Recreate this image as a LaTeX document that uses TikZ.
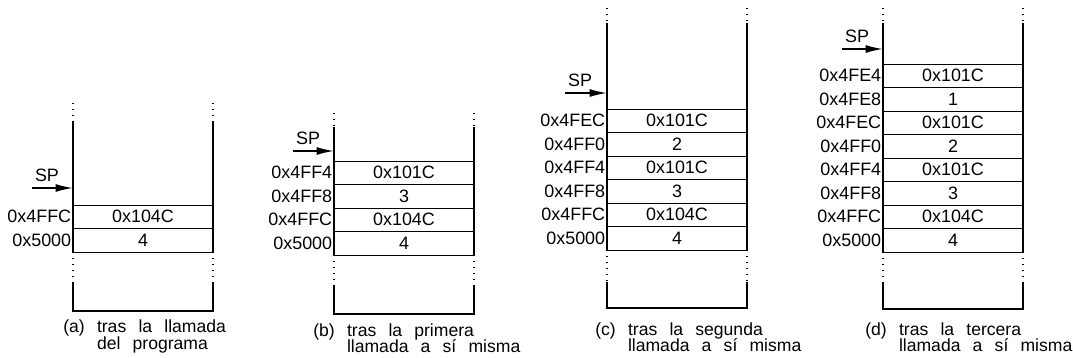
\documentclass[tikz,border=0pt]{standalone}
\usepackage{fontspec}
\setmainfont{Liberation Sans}[WordSpace=2.5]
\usetikzlibrary{arrows.meta}

% tight two-line captions
\newcommand{\capfont}{\fontsize{10}{9.2}\selectfont\setlength{\lineskiplimit}{-5pt}}

\tikzset{
  cell/.style={rectangle,draw,line width=0.5pt,minimum width=2.8cm,minimum height=0.47cm,inner sep=0pt},
  addr/.style={inner sep=0.6pt},
  wall/.style={line width=0.8pt},
  gap/.style={line width=0.6pt,dash pattern=on 0.6pt off 2.8pt},
  sparrow/.style={-{Latex[length=3.4mm,width=1.6mm]},line width=0.7pt},
  caption/.style={anchor=base west,align=left,inner sep=0pt,font=\capfont}
}

\begin{document}
\begin{tikzpicture}[x=0.02cm,y=-0.02cm,font=\fontsize{10.2}{8.6}\selectfont]
\useasboundingbox (0,0) rectangle (1073,358);

% (a) stack after the call from the program
\node[cell,label={[addr]left:0x5000}] (a1) at (143,240.25) {4};
\node[cell,label={[addr]left:0x4FFC}] (a2) at (143,216.75) {0x104C};
\draw[gap] (73,103) -- (73,122) (213,103) -- (213,122);
\draw[wall] (73,122) -- (73,252) (213,122) -- (213,252);
\draw[gap] (73,252) -- (73,282) (213,252) -- (213,282);
\draw[wall] (73,282) -- (73,311) -- (213,311) -- (213,282);
\node (spa) at (47,175) {SP};
\coordinate (ta) at (32,188);
\draw[sparrow] (ta) -- (ta -| a2.west);
\node[caption] (capa) at (63,349) {(a) tras la llamada\\\hphantom{(a) }del programa};

% (b) first recursive call
\node[cell,label={[addr]left:0x5000}] (b1) at (404,243.25) {4};
\node[cell,label={[addr]left:0x4FFC}] (b2) at (404,219.75) {0x104C};
\node[cell,label={[addr]left:0x4FF8}] (b3) at (404,196.25) {3};
\node[cell,label={[addr]left:0x4FF4}] (b4) at (404,172.75) {0x101C};
\draw[gap] (334,113) -- (334,127) (474,113) -- (474,127);
\draw[wall] (334,127) -- (334,255) (474,127) -- (474,255);
\draw[gap] (334,255) -- (334,285) (474,255) -- (474,285);
\draw[wall] (334,285) -- (334,314) -- (474,314) -- (474,285);
\node (spb) at (308,138) {SP};
\coordinate (tb) at (293,151);
\draw[sparrow] (tb) -- (tb -| b4.west);
\node[caption] (capb) at (313,352.5) {(b) tras la primera\\\hphantom{(b) }llamada a sí misma};

% (c) second recursive call
\node[cell,label={[addr]left:0x5000}] (c1) at (677,238.25) {4};
\node[cell,label={[addr]left:0x4FFC}] (c2) at (677,214.75) {0x104C};
\node[cell,label={[addr]left:0x4FF8}] (c3) at (677,191.25) {3};
\node[cell,label={[addr]left:0x4FF4}] (c4) at (677,167.75) {0x101C};
\node[cell,label={[addr]left:0x4FF0}] (c5) at (677,144.25) {2};
\node[cell,label={[addr]left:0x4FEC}] (c6) at (677,120.75) {0x101C};
\draw[gap] (607,8) -- (607,23) (747,8) -- (747,23);
\draw[wall] (607,23) -- (607,250) (747,23) -- (747,250);
\draw[gap] (607,250) -- (607,282) (747,250) -- (747,282);
\draw[wall] (607,282) -- (607,308) -- (747,308) -- (747,282);
\node (spc) at (580,80) {SP};
\coordinate (tc) at (565,93);
\draw[sparrow] (tc) -- (tc -| c6.west);
\node[caption] (capc) at (595,351.5) {(c) tras la segunda\\\hphantom{(c) }llamada a sí misma};

% (d) third recursive call
\node[cell,label={[addr]left:0x5000}] (d1) at (953,240.25) {4};
\node[cell,label={[addr]left:0x4FFC}] (d2) at (953,216.75) {0x104C};
\node[cell,label={[addr]left:0x4FF8}] (d3) at (953,193.25) {3};
\node[cell,label={[addr]left:0x4FF4}] (d4) at (953,169.75) {0x101C};
\node[cell,label={[addr]left:0x4FF0}] (d5) at (953,146.25) {2};
\node[cell,label={[addr]left:0x4FEC}] (d6) at (953,122.75) {0x101C};
\node[cell,label={[addr]left:0x4FE8}] (d7) at (953,99.25) {1};
\node[cell,label={[addr]left:0x4FE4}] (d8) at (953,75.75) {0x101C};
\draw[gap] (883,8) -- (883,23) (1023,8) -- (1023,23);
\draw[wall] (883,23) -- (883,252) (1023,23) -- (1023,252);
\draw[gap] (883,252) -- (883,282) (1023,252) -- (1023,282);
\draw[wall] (883,282) -- (883,309) -- (1023,309) -- (1023,282);
\node (spd) at (857,36) {SP};
\coordinate (td) at (842,49);
\draw[sparrow] (td) -- (td -| d8.west);
\node[caption] (capd) at (865,351.5) {(d) tras la tercera\\\hphantom{(d) }llamada a sí misma};
\end{tikzpicture}
\end{document}
